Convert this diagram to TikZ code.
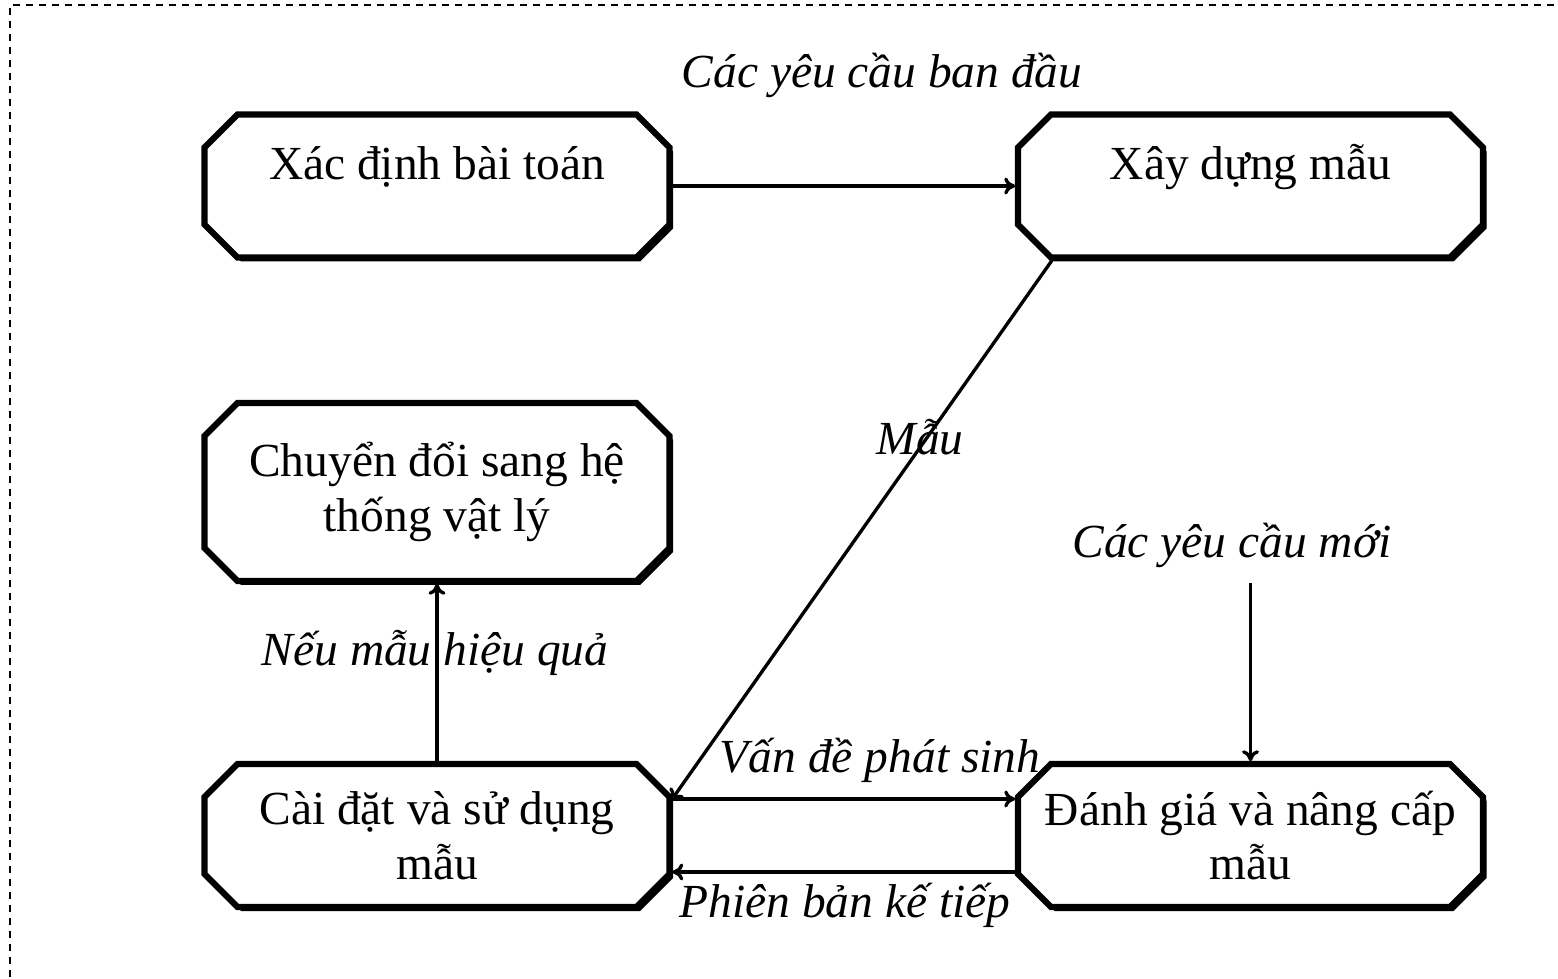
\documentclass[tikz,border=0pt]{standalone}
\usepackage{fontspec}
\setmainfont{Liberation Serif}
\usetikzlibrary{arrows.meta,backgrounds}
\newcommand{\octpath}[1]{([xshift=0.66cm]#1.north west) -- ([xshift=-0.66cm]#1.north east) -- ([yshift=-0.66cm]#1.north east) -- ([yshift=0.66cm]#1.south east) -- ([xshift=-0.66cm]#1.south east) -- ([xshift=0.66cm]#1.south west) -- ([yshift=0.66cm]#1.south west) -- ([yshift=-0.66cm]#1.north west) -- cycle}

\begin{document}
\begin{tikzpicture}[
    every node/.style={font=\fontsize{27}{31}\selectfont},
    box/.style={rectangle, align=center, inner sep=0pt, outer sep=0pt,
      minimum width=9.3cm, minimum height=2.86cm},
    topline/.style={text height=0.7cm, text depth=0.96cm},
    lbl/.style={font=\fontsize{27}{31}\selectfont\itshape},
    arr/.style={line width=1.9pt, shorten >=1.6pt, -{To[length=0.22cm, width=0.34cm]}}
  ]
  \useasboundingbox (0,0) rectangle (31.16,-19.58);
  \draw[line width=0.75pt, dash pattern=on 0.14cm off 0.12cm] (0.2,-19.8) -- (0.2,-0.1) -- (31.4,-0.1); % frame
  \node[box, topline] (Xac) at(8.74,-3.72){Xác định bài toán};
  \node[box, topline] (Xay) at(25.01,-3.72){Xây dựng mẫu};
  \node[box, minimum height=3.56cm] (Chuyen) at(8.74,-9.84){Chuyển đổi sang hệ\\thống vật lý};
  \node[box] (Cai) at(8.74,-16.71){Cài đặt và sử dụng\\mẫu};
  \node[box] (Danh) at(25.01,-16.71){Đánh giá và nâng cấp\\mẫu};
  \begin{scope}[on background layer]
    \foreach \b in {Xac,Xay,Chuyen,Cai,Danh}{
      \fill[black, transform canvas={shift={(0.07,-0.08)}}] \octpath{\b}; % shadow
      \draw[line width=3.6pt, fill=white] \octpath{\b};
    }
  \end{scope}
  \node[lbl] (BanDau) at(17.64,-1.5){Các yêu cầu ban đầu};
  \node[lbl] (Mau) at(18.4,-8.74){Mẫu};
  \node[lbl] (Moi) at(24.64,-10.9){Các yêu cầu mới};
  \node[lbl] (VanDe) at(17.6,-15.2){Vấn đề phát sinh};
  \node[lbl] (PhienBan) at(16.9,-18.1){Phiên bản kế tiếp};
  \node[lbl] (Neu) at(8.7,-13.06){Nếu mẫu hiệu quả};
  \coordinate (MoiEnd) at(25.01,-11.66);
  \draw[arr] (Xac.east) -- (Xay.west);
  \draw[arr] (Xay.200.5) -- (Cai.8.8);
  \draw[arr] (MoiEnd) -- (Danh.north);
  \draw[arr] ([yshift=0.73cm]Cai.east) -- ([yshift=0.73cm]Danh.west);
  \draw[arr] ([yshift=-0.73cm]Danh.west) -- ([yshift=-0.73cm]Cai.east);
  \draw[arr] (Cai.north) -- (Chuyen.south);
\end{tikzpicture}
\end{document}
